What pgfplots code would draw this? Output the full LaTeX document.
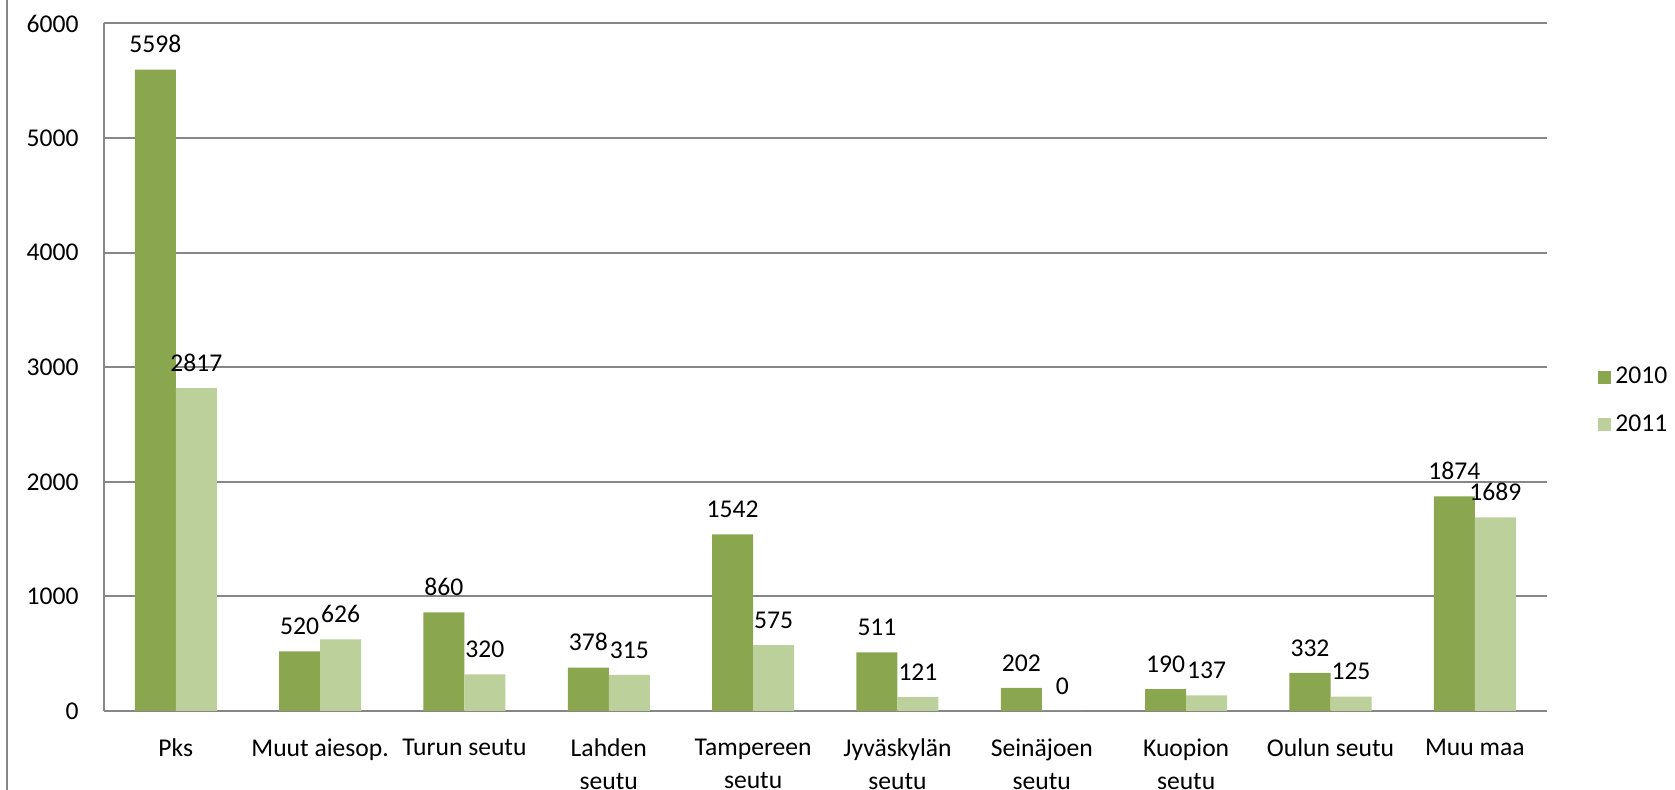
\documentclass[border=0pt]{standalone}
\usepackage{fontspec}
\setmainfont{Carlito}
\usepackage{pgfplots}
\pgfplotsset{compat=1.18}
\definecolor{dk}{HTML}{8AA64F}
\definecolor{lt}{HTML}{BBD09B}
\definecolor{gl}{HTML}{868686}
\newcommand{\cf}{\fontsize{12.8}{16.5}\selectfont}
\begin{document}
\begin{tikzpicture}[x=1pt,y=1pt]
\path[use as bounding box] (0,0) rectangle (837.5,395);
\draw[gl, line width=1pt] (3.5,-5) -- (3.5,400);
\begin{axis}[
  at={(51.8pt,39.5pt)}, anchor=south west,
  scale only axis, width=721.7pt, height=343.75pt,
  ybar=0pt, bar width=20.5pt,
  ymin=0, ymax=6000, ytick={0,1000,2000,3000,4000,5000,6000},
  xmin=-0.5, xmax=9.5, xtick={0,1,2,3,4,5,6,7,8,9},
  xticklabels={Pks, Muut aiesop., Turun seutu, {Lahden\\seutu}, {Tampereen\\seutu}, {Jyväskylän\\seutu}, {Seinäjoen\\seutu}, {Kuopion\\seutu}, Oulun seutu, Muu maa},
  xticklabel style={align=center, font=\cf, yshift=-10.5pt},
  yticklabel style={font=\cf, xshift=-9pt},
  /pgf/number format/assume math mode=true,
  /pgf/number format/1000 sep={},
  scaled y ticks=false,
  axis x line*=bottom, axis y line*=left,
  axis line style={gl, line width=1pt, -},
  ymajorgrids, grid style={gl, line width=1pt},
  major tick length=0pt,
  nodes near coords,
  every node near coord/.append style={font=\cf, black, yshift=4.8pt},
  legend style={at={(rel axis cs:1.031,0.451)}, anchor=west, draw=none, fill=none, font=\cf, row sep=10pt},
  legend image code/.code={\fill[#1] (0pt,-3.3pt) rectangle (6.6pt,3.3pt);},
  legend cell align=left,
]
\addplot[fill=dk, draw=none] coordinates {(0,5598) (1,520) (2,860) (3,378) (4,1542) (5,511) (6,202) (7,190) (8,332) (9,1874)};
\addplot[fill=lt, draw=none] coordinates {(0,2817) (1,626) (2,320) (3,315) (4,575) (5,121) (6,0) (7,137) (8,125) (9,1689)};
\legend{2010,2011}
\end{axis}
\end{tikzpicture}
\end{document}
